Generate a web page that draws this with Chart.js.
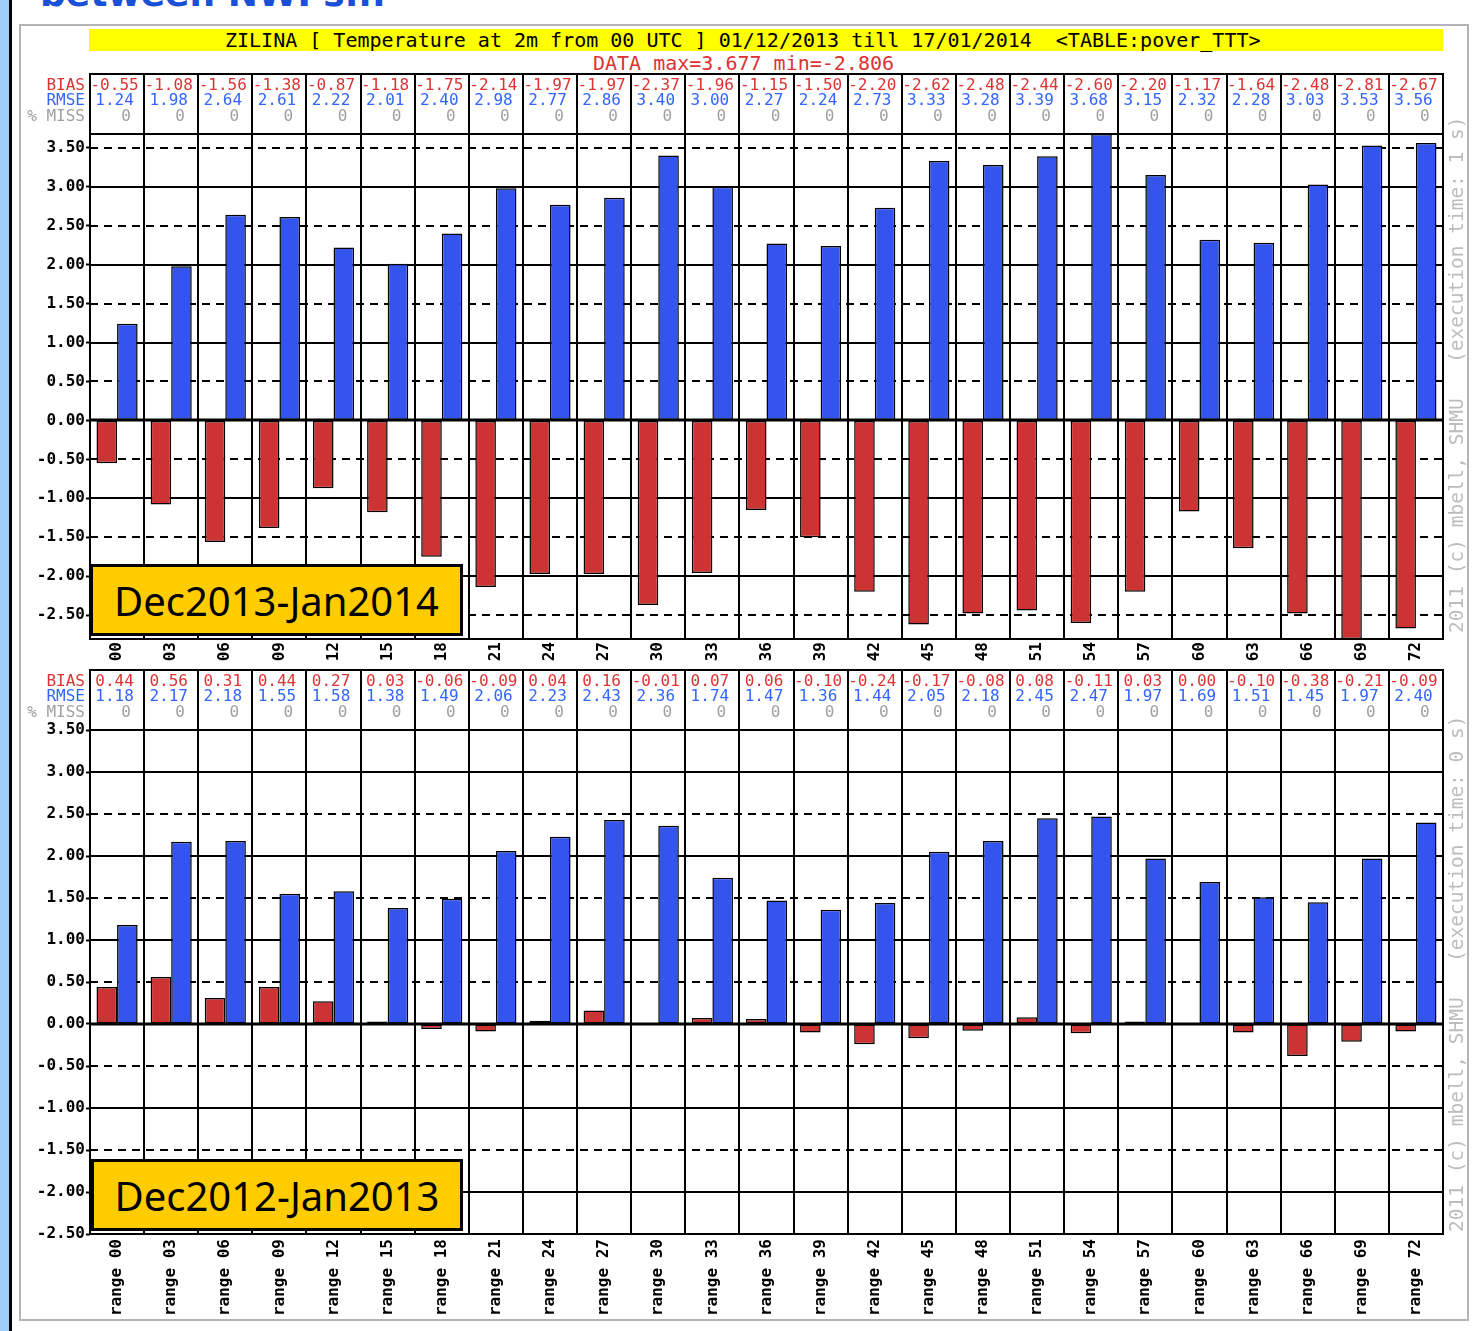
<!DOCTYPE html>
<html>
<head>
<meta charset="utf-8">
<script src="https://cdn.jsdelivr.net/npm/chart.js@4.4.0/dist/chart.umd.min.js"></script>
<style>
html,body{margin:0;padding:0;background:#fff;}
body{width:1477px;height:1331px;position:relative;overflow:hidden;font-family:"DejaVu Sans Mono",monospace;}
#strip{position:absolute;left:0;top:0;width:9px;height:1331px;background:#9fcff7;}
#vline{position:absolute;left:9px;top:0;width:3px;height:1331px;background:#000;}
#heading{position:absolute;left:40px;top:-24px;font:bold 36px "DejaVu Sans",sans-serif;color:#1a4fd8;white-space:nowrap;line-height:36px;}
#frame{position:absolute;left:19px;top:24px;width:1450px;height:1297px;box-sizing:border-box;border:2px solid #b4b4b4;}
#title{position:absolute;left:89px;top:29px;width:1354px;height:22px;box-sizing:border-box;padding-left:136px;background:#ffff00;font:20px "DejaVu Sans Mono",monospace;line-height:22px;white-space:pre;color:#000;}
#datainfo{position:absolute;left:593px;top:52px;font:20px "DejaVu Sans Mono",monospace;line-height:22px;white-space:pre;color:#dd3333;}
canvas{position:absolute;left:0;}
#c1{top:0;}
#c2{top:665px;}
.lab{position:absolute;box-sizing:border-box;border:3px solid #000;background:#ffcc00;font:40px "Noto Sans",sans-serif;color:#000;display:flex;align-items:center;justify-content:center;white-space:nowrap;z-index:5;}
#lab1{left:90px;top:564px;width:373px;height:72px;}
#lab2{left:91px;top:1159px;width:372px;height:72px;}
.side{position:absolute;transform-origin:0 0;transform:rotate(-90deg);font:19.5px "DejaVu Sans Mono",monospace;line-height:20px;height:20px;white-space:pre;color:#bdbdbd;}
#side1{left:1447px;top:633px;}
#side2{left:1447px;top:1232px;}
</style>
</head>
<body>
<div id="strip"></div>
<div id="vline"></div>
<div id="heading">between NWPs...</div>
<div id="frame"></div>
<div id="title">ZILINA [ Temperature at 2m from 00 UTC ] 01/12/2013 till 17/01/2014  &lt;TABLE:pover_TTT&gt;</div>
<div id="datainfo">DATA max=3.677 min=-2.806</div>
<canvas id="c1" width="1477" height="665"></canvas>
<canvas id="c2" width="1477" height="666"></canvas>
<div class="lab" id="lab1">Dec2013-Jan2014</div>
<div class="lab" id="lab2">Dec2012-Jan2013</div>
<div class="side" id="side1">2011 (c) mbell, SHMU   (execution time: 1 s)</div>
<div class="side" id="side2">2011 (c) mbell, SHMU   (execution time: 0 s)</div>
<script>
// ---- data ----
const hours = ['00','03','06','09','12','15','18','21','24','27','30','33','36','39','42','45','48','51','54','57','60','63','66','69','72'];
const rangeLabels = hours.map(h => 'range ' + h);

const topBias = [-0.55,-1.08,-1.56,-1.38,-0.87,-1.18,-1.75,-2.14,-1.97,-1.97,-2.37,-1.96,-1.15,-1.50,-2.20,-2.62,-2.48,-2.44,-2.60,-2.20,-1.17,-1.64,-2.48,-2.806,-2.67];
const topRmse = [1.24,1.98,2.64,2.61,2.22,2.01,2.40,2.98,2.77,2.86,3.40,3.00,2.27,2.24,2.73,3.33,3.28,3.39,3.677,3.15,2.32,2.28,3.03,3.53,3.56];
const topMiss = [0,0,0,0,0,0,0,0,0,0,0,0,0,0,0,0,0,0,0,0,0,0,0,0,0];

const botBias = [0.44,0.56,0.31,0.44,0.27,0.03,-0.06,-0.09,0.04,0.16,-0.01,0.07,0.06,-0.10,-0.24,-0.17,-0.08,0.08,-0.11,0.03,0.00,-0.10,-0.38,-0.21,-0.09];
const botRmse = [1.18,2.17,2.18,1.55,1.58,1.38,1.49,2.06,2.23,2.43,2.36,1.74,1.47,1.36,1.44,2.05,2.18,2.45,2.47,1.97,1.69,1.51,1.45,1.97,2.40];
const botMiss = [0,0,0,0,0,0,0,0,0,0,0,0,0,0,0,0,0,0,0,0,0,0,0,0,0];

const yTickValues = [-2.5,-2,-1.5,-1,-0.5,0,0.5,1,1.5,2,2.5,3,3.5];
const topRange = [-2.806, 3.677];
const botRange = [-2.5, 3.5];
const rowLabels = ['BIAS','RMSE','% MISS'];

// ---- styles ----
const RED_BAR = '#cc3333', BLUE_BAR = '#3355ee';
const RED_TXT = '#dd3333', BLUE_TXT = '#3366ff', GRAY_TXT = '#a0a0a0';
const rowColors = [RED_TXT, BLUE_TXT, GRAY_TXT];
const MONO = '"DejaVu Sans Mono", monospace';

const tablePlugin = {
  id: 'verifTable',
  beforeDatasetsDraw(chart) {
    const {ctx, chartArea: a, scales: {y}} = chart;
    ctx.save();
    ctx.strokeStyle = '#000';
    ctx.lineWidth = 2;
    yTickValues.forEach(v => {
      if (v === 0) return;
      const py = Math.round(y.getPixelForValue(v));
      if (py <= a.top + 1 || py >= a.bottom - 1) return;
      ctx.setLineDash(Number.isInteger(v) ? [] : [8, 6]);
      ctx.beginPath(); ctx.moveTo(a.left, py); ctx.lineTo(a.right, py); ctx.stroke();
    });
    ctx.restore();
  },
  afterDatasetsDraw(chart, args, opts) {
    const {ctx, chartArea: a, scales: {x, y}} = chart;
    ctx.save();
    ctx.strokeStyle = '#000';
    // zero line
    ctx.lineWidth = 3;
    const zy = Math.round(y.getPixelForValue(0));
    ctx.beginPath(); ctx.moveTo(a.left, zy); ctx.lineTo(a.right, zy); ctx.stroke();
    // plot frame
    ctx.lineWidth = 2;
    ctx.strokeRect(a.left, a.top, a.right - a.left, a.bottom - a.top);
    // header table
    const tH = 60, tTop = a.top - tH;
    ctx.strokeRect(a.left, tTop, a.right - a.left, tH);
    const n = chart.data.labels.length;
    const half = (x.getPixelForValue(1) - x.getPixelForValue(0)) / 2;
    for (let i = 1; i < n; i++) {
      const bx = Math.round(x.getPixelForValue(i) - half);
      ctx.beginPath(); ctx.moveTo(bx, tTop); ctx.lineTo(bx, a.top); ctx.stroke();
    }
    const rowY = [tTop + 12, tTop + 27, tTop + 43];
    ctx.font = '16px ' + MONO;
    ctx.textBaseline = 'middle';
    ctx.textAlign = 'right';
    rowLabels.forEach((t, r) => { ctx.fillStyle = rowColors[r]; ctx.fillText(t, a.left - 5, rowY[r]); });
    const bias = chart.data.datasets[0].data, rmse = chart.data.datasets[1].data, miss = opts.miss;
    ctx.textAlign = 'center';
    for (let i = 0; i < n; i++) {
      const cx = x.getPixelForValue(i);
      ctx.fillStyle = RED_TXT;  ctx.fillText(bias[i].toFixed(2), cx - 2.5, rowY[0]);
      ctx.fillStyle = BLUE_TXT; ctx.fillText(rmse[i].toFixed(2), cx - 2.5, rowY[1]);
      ctx.fillStyle = GRAY_TXT; ctx.fillText(String(miss[i]), cx + 9, rowY[2]);
    }
    ctx.restore();
  }
};

function makeChart(id, labels, bias, rmse, miss, range, padTop, xHeight, tickPad) {
  const barStyle = {borderColor: '#000', borderWidth: 1.5, borderSkipped: false, categoryPercentage: 0.76, barPercentage: 1.0};
  return new Chart(document.getElementById(id), {
    type: 'bar',
    data: {
      labels: labels,
      datasets: [
        Object.assign({label: 'BIAS', data: bias, backgroundColor: RED_BAR}, barStyle),
        Object.assign({label: 'RMSE', data: rmse, backgroundColor: BLUE_BAR}, barStyle)
      ]
    },
    options: {
      responsive: false,
      animation: false,
      devicePixelRatio: 1,
      layout: {padding: {left: 0, right: 34, top: padTop, bottom: 0}},
      plugins: {legend: {display: false}, tooltip: {enabled: false}, title: {display: false}, verifTable: {miss: miss}},
      scales: {
        x: {
          offset: true,
          grid: {color: '#000', lineWidth: 2, offset: true, drawTicks: false},
          border: {display: false},
          ticks: {color: '#000', font: {family: MONO, size: 16, weight: 'bold'}, minRotation: 90, maxRotation: 90, autoSkip: false, padding: tickPad},
          afterFit(s) { s.height = xHeight; }
        },
        y: {
          min: range[0], max: range[1],
          grid: {drawOnChartArea: false, color: '#000', tickLength: 4, tickWidth: 2, tickColor: '#000'},
          border: {display: false},
          afterBuildTicks(s) { s.ticks = yTickValues.map(v => ({value: v})); },
          ticks: {color: '#000', font: {family: MONO, size: 16, weight: 'bold'}, padding: 1, autoSkip: false, callback: v => Number(v).toFixed(2)},
          afterFit(s) { s.width = 90; }
        }
      }
    },
    plugins: [tablePlugin]
  });
}

makeChart('c1', hours, topBias, topRmse, topMiss, topRange, 134, 26, 3);
makeChart('c2', rangeLabels, botBias, botRmse, botMiss, botRange, 65, 97, 5);
</script>
</body>
</html>
